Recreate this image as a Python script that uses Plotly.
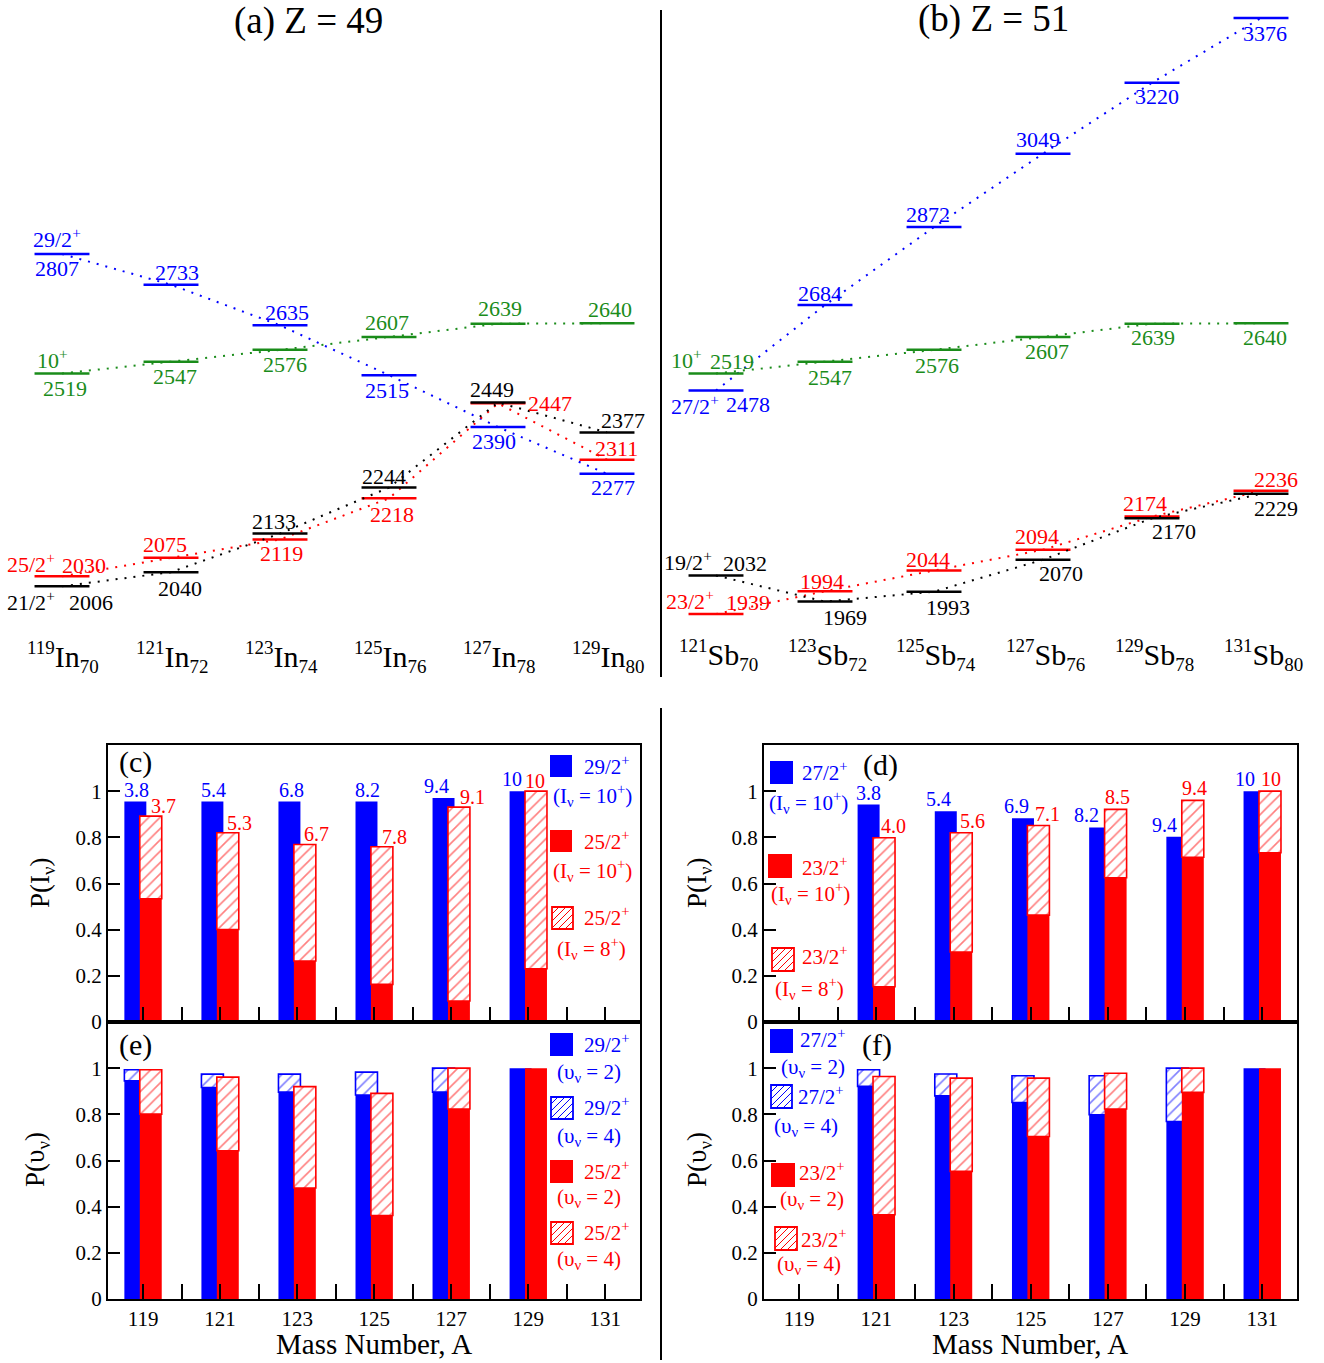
import plotly.graph_objects as go

# Reference frame (pixels of the target picture); the figure itself is drawn
# slightly taller because the page is photographed and squeezed to 1363 px.
W, H = 1324, 1363
FIG_H = 1375
FONT = "Liberation Serif"
BLUE = "#0000ff"
RED = "#ff0000"
GREEN = "#1a8c1a"
BLACK = "#000000"

# ---------------- data: level energies (keV) ----------------
in_isotopes = ["119", "121", "123", "125", "127", "129"]
in_neutrons = ["70", "72", "74", "76", "78", "80"]
sb_isotopes = ["121", "123", "125", "127", "129", "131"]
sb_neutrons = ["70", "72", "74", "76", "78", "80"]

in_blue = [2807, 2733, 2635, 2515, 2390, 2277]     # 29/2+
in_green = [2519, 2547, 2576, 2607, 2639, 2640]    # 10+
in_red = [2030, 2075, 2119, 2218, 2447, 2311]      # 25/2+
in_black = [2006, 2040, 2133, 2244, 2449, 2377]    # 21/2+

sb_blue = [2478, 2684, 2872, 3049, 3220, 3376]     # 27/2+
sb_green = [2519, 2547, 2576, 2607, 2639, 2640]    # 10+
sb_red = [1939, 1994, 2044, 2094, 2174, 2236]      # 23/2+
sb_black = [2032, 1969, 1993, 2070, 2170, 2229]    # 19/2+

# ---------------- data: probabilities ----------------
mass_in = [119, 121, 123, 125, 127, 129]
mass_sb = [121, 123, 125, 127, 129, 131]

c_blue = [0.955, 0.955, 0.955, 0.955, 0.97, 1.0]
c_red_solid = [0.534, 0.401, 0.264, 0.163, 0.091, 0.231]
c_red_total = [0.892, 0.82, 0.769, 0.759, 0.931, 1.0]
c_blue_lab = ["3.8", "5.4", "6.8", "8.2", "9.4", "10"]
c_red_lab = ["3.7", "5.3", "6.7", "7.8", "9.1", "10"]

d_blue = [0.942, 0.913, 0.883, 0.843, 0.802, 1.0]
d_red_solid = [0.153, 0.303, 0.463, 0.625, 0.714, 0.733]
d_red_total = [0.798, 0.82, 0.851, 0.921, 0.96, 1.0]
d_blue_lab = ["3.8", "5.4", "6.9", "8.2", "9.4", "10"]
d_red_lab = ["4.0", "5.6", "7.1", "8.5", "9.4", "10"]

e_blue_solid = [0.945, 0.916, 0.896, 0.884, 0.896, 1.0]
e_blue_total = [0.993, 0.974, 0.974, 0.983, 1.0, 1.0]
e_red_solid = [0.801, 0.642, 0.481, 0.362, 0.823, 1.0]
e_red_total = [0.993, 0.961, 0.92, 0.891, 1.0, 1.0]

f_blue_solid = [0.921, 0.88, 0.851, 0.798, 0.769, 1.0]
f_blue_total = [0.993, 0.975, 0.967, 0.967, 1.0, 1.0]
f_red_solid = [0.365, 0.553, 0.704, 0.823, 0.895, 1.0]
f_red_total = [0.964, 0.957, 0.957, 0.978, 1.0, 1.0]


# ---------------- layout helpers (reference pixels -> paper) ----------------
def px(x):
    return x / W


def py(y):
    return 1 - y / H


fig = go.Figure()
annotations = []
shapes = []


def ann(text, x, y, color=BLACK, size=20, xanchor="center", yanchor="middle",
        xref="paper", yref="paper", xshift=0, yshift=0, textangle=0):
    if xref == "paper":
        x = px(x)
    if yref == "paper":
        y = py(y)
    annotations.append(dict(text=text, x=x, y=y, xref=xref, yref=yref,
                            showarrow=False, xanchor=xanchor, yanchor=yanchor,
                            xshift=xshift, yshift=yshift, textangle=textangle,
                            font=dict(family=FONT, size=size, color=color)))


# ---------------- top: level schemes ----------------
HALF = 0.252
LVL_FS = 22
STEP = 109.0   # pixels between isotopes
X0 = 62.0      # pixel centre of first isotope


def level_series(energies, offset, color, offsets, extra=None):
    xs, ys = [], []
    for k, e in enumerate(energies):
        i = offset + k
        xs += [i - HALF, i + HALF, None]
        ys += [e, e, None]
    fig.add_trace(go.Scatter(x=xs, y=ys, mode="lines", line=dict(color=color, width=2.5),
                             hoverinfo="skip", showlegend=False, xaxis="x", yaxis="y"))
    fig.add_trace(go.Scatter(x=[offset + k for k in range(len(energies))], y=energies,
                             mode="lines", line=dict(color=color, width=2, dash="2px,7px"),
                             hoverinfo="skip", showlegend=False, xaxis="x", yaxis="y"))
    for k, e in enumerate(energies):
        dx, dy = offsets[k]
        ann(str(e), offset + k, e, color=color, size=LVL_FS, xref="x", yref="y",
            xshift=dx, yshift=dy)
    if extra is not None:
        txt, dx, dy = extra
        ann(txt, offset, energies[0], color=color, size=LVL_FS, xref="x", yref="y",
            xshift=dx, yshift=dy)


# panel (a)
level_series(in_blue, 0, BLUE, [(-5, -14), (6, 12), (7, 13), (-2, -15), (-4, -15), (6, -14)],
             ("29/2<sup>+</sup>", -5, 16))
level_series(in_green, 0, GREEN, [(3, -15), (4, -15), (5, -15), (-2, 14), (2, 15), (3, 14)],
             ("10<sup>+</sup>", -10, 14))
level_series(in_red, 0, RED, [(22, 11), (-6, 13), (1, -14), (3, -16), (52, 0), (9, 11)],
             ("25/2<sup>+</sup>", -31, 13))
level_series(in_black, 0, BLACK, [(29, -16), (9, -16), (-6, 12), (-5, 11), (-6, 13), (16, 12)],
             ("21/2<sup>+</sup>", -31, -15))
# panel (b)
level_series(sb_blue, 6, BLUE, [(32, -14), (-5, 12), (-6, 13), (-5, 14), (5, -14), (4, -15)],
             ("27/2<sup>+</sup>", -21, -15))
level_series(sb_green, 6, GREEN, [(16, 12), (5, -16), (3, -16), (4, -15), (1, -14), (4, -14)],
             ("10<sup>+</sup>", -30, 14))
level_series(sb_red, 6, RED, [(32, 12), (-3, 10), (-6, 11), (-6, 13), (-7, 13), (15, 11)],
             ("23/2<sup>+</sup>", -26, 14))
level_series(sb_black, 6, BLACK, [(29, 12), (20, -16), (14, -16), (18, -14), (22, -13), (15, -15)],
             ("19/2<sup>+</sup>", -28, 14))

SUPSPAN = "<span style='font-size:19px'>%s</span>"
for k in range(6):
    ann("<sup>" + SUPSPAN % in_isotopes[k] + "</sup>In<sub>" + SUPSPAN % in_neutrons[k] + "</sub>",
        k, 657, size=30, xref="x", yref="paper", xshift=1)
    ann("<sup>" + SUPSPAN % sb_isotopes[k] + "</sup>Sb<sub>" + SUPSPAN % sb_neutrons[k] + "</sub>",
        6 + k, 655, size=30, xref="x", yref="paper", xshift=2)

ann("(a) Z = 49", 308, 21, size=37)
ann("(b) Z = 51", 993, 19, size=37)

# separators
shapes.append(dict(type="line", xref="paper", yref="paper", x0=px(661), x1=px(661),
                   y0=py(10), y1=py(677), line=dict(color=BLACK, width=2)))
shapes.append(dict(type="line", xref="paper", yref="paper", x0=px(661), x1=px(661),
                   y0=py(708), y1=py(1360), line=dict(color=BLACK, width=2)))

# ---------------- bottom: bar panels ----------------
BW = 0.57
OFF = 0.2


def solid_bar(xs, ys, color, ax):
    fig.add_trace(go.Bar(x=xs, y=ys, width=BW, marker=dict(color=color, line=dict(width=0)),
                         hoverinfo="skip", showlegend=False, xaxis="x" + ax, yaxis="y" + ax))


def hatch_bar(xs, base, top, color, ax):
    hy = [t - b if t - b > 1e-6 else None for b, t in zip(base, top)]
    fig.add_trace(go.Bar(x=xs, y=hy, base=base, width=BW,
                         marker=dict(color="white", line=dict(color=color, width=1.6),
                                     pattern=dict(shape="/", fgcolor=color, bgcolor="white",
                                                  size=8, solidity=0.2)),
                         hoverinfo="skip", showlegend=False, xaxis="x" + ax, yaxis="y" + ax))


# (c)
xb = [a - OFF for a in mass_in]
xr = [a + OFF for a in mass_in]
solid_bar(xb, c_blue, BLUE, "2")
solid_bar(xr, c_red_solid, RED, "2")
hatch_bar(xr, c_red_solid, c_red_total, RED, "2")
# (e)
hatch_bar(xb, e_blue_solid, e_blue_total, BLUE, "3")
solid_bar(xb, e_blue_solid, BLUE, "3")
solid_bar(xr, e_red_solid, RED, "3")
hatch_bar(xr, e_red_solid, e_red_total, RED, "3")
# (d)
xb2 = [a - OFF for a in mass_sb]
xr2 = [a + OFF for a in mass_sb]
solid_bar(xb2, d_blue, BLUE, "4")
solid_bar(xr2, d_red_solid, RED, "4")
hatch_bar(xr2, d_red_solid, d_red_total, RED, "4")
# (f)
hatch_bar(xb2, f_blue_solid, f_blue_total, BLUE, "5")
solid_bar(xb2, f_blue_solid, BLUE, "5")
solid_bar(xr2, f_red_solid, RED, "5")
hatch_bar(xr2, f_red_solid, f_red_total, RED, "5")

# value labels
c_boff = [-0.17, -0.16, -0.15, -0.18, -0.37, -0.43]
c_roff = [0.54, 0.5, 0.5, 0.54, 0.55, 0.18]
d_boff = [-0.19, -0.38, -0.36, -0.55, -0.54, -0.46]
d_roff = [0.44, 0.49, 0.43, 0.24, 0.25, 0.22]
for k in range(6):
    ann(c_blue_lab[k], mass_in[k] + c_boff[k], c_blue[k], color=BLUE, size=20,
        xref="x2", yref="y2", yshift=12)
    ann(c_red_lab[k], mass_in[k] + c_roff[k], c_red_total[k], color=RED, size=20,
        xref="x2", yref="y2", yshift=10)
    ann(d_blue_lab[k], mass_sb[k] + d_boff[k], d_blue[k], color=BLUE, size=20,
        xref="x4", yref="y4", yshift=12)
    ann(d_red_lab[k], mass_sb[k] + d_roff[k], d_red_total[k], color=RED, size=20,
        xref="x4", yref="y4", yshift=12)


# legends (swatches as shapes, text as annotations)
def swatch_solid(x0, y0, x1, y1, color):
    shapes.append(dict(type="rect", xref="paper", yref="paper", x0=px(x0), x1=px(x1),
                       y0=py(y1), y1=py(y0), fillcolor=color, line=dict(width=0)))


def swatch_hatch(x0, y0, x1, y1, color, step=7):
    shapes.append(dict(type="rect", xref="paper", yref="paper", x0=px(x0), x1=px(x1),
                       y0=py(y1), y1=py(y0), fillcolor="white", line=dict(color=color, width=1.8)))
    path = ""
    c = x0 + y0 + step
    while c < x1 + y1:
        xa = max(x0, c - y1)
        xb_ = min(x1, c - y0)
        path += "M%.5f,%.5f L%.5f,%.5f " % (px(xa), py(c - xa), px(xb_), py(c - xb_))
        c += step
    shapes.append(dict(type="path", xref="paper", yref="paper", path=path,
                       line=dict(color=color, width=1)))


LG = 21
IV10 = "(I<sub>ν</sub> = 10<sup>+</sup>)"
IV8 = "(I<sub>ν</sub> = 8<sup>+</sup>)"
UV2 = "(υ<sub>ν</sub> = 2)"
UV4 = "(υ<sub>ν</sub> = 4)"

# (c) legend
swatch_solid(550, 755, 572, 777, BLUE)
ann("29/2<sup>+</sup>", 582, 765, BLUE, LG, xanchor="left")
ann(IV10, 592, 795, BLUE, LG)
swatch_solid(550, 830, 572, 852, RED)
ann("25/2<sup>+</sup>", 582, 840, RED, LG, xanchor="left")
ann(IV10, 592, 870, RED, LG)
swatch_hatch(552, 907, 573, 929, RED)
ann("25/2<sup>+</sup>", 582, 916, RED, LG, xanchor="left")
ann(IV8, 591, 948, RED, LG)

# (e) legend
swatch_solid(550, 1033, 573, 1056, BLUE)
ann("29/2<sup>+</sup>", 582, 1043, BLUE, LG, xanchor="left")
ann(UV2, 589, 1073, BLUE, LG)
swatch_hatch(551, 1097, 573, 1119, BLUE)
ann("29/2<sup>+</sup>", 582, 1106, BLUE, LG, xanchor="left")
ann(UV4, 589, 1137, BLUE, LG)
swatch_solid(550, 1160, 573, 1183, RED)
ann("25/2<sup>+</sup>", 582, 1170, RED, LG, xanchor="left")
ann(UV2, 589, 1198, RED, LG)
swatch_hatch(551, 1222, 573, 1244, RED)
ann("25/2<sup>+</sup>", 582, 1231, RED, LG, xanchor="left")
ann(UV4, 589, 1260, RED, LG)

# (d) legend
swatch_solid(770, 761, 793, 784, BLUE)
ann("27/2<sup>+</sup>", 800, 771, BLUE, LG, xanchor="left")
ann(IV10, 808, 802, BLUE, LG)
swatch_solid(768, 854, 792, 878, RED)
ann("23/2<sup>+</sup>", 800, 866, RED, LG, xanchor="left")
ann(IV10, 810, 893, RED, LG)
swatch_hatch(772, 948, 794, 971, RED)
ann("23/2<sup>+</sup>", 800, 955, RED, LG, xanchor="left")
ann(IV8, 809, 988, RED, LG)

# (f) legend
swatch_solid(770, 1029, 793, 1053, BLUE)
ann("27/2<sup>+</sup>", 798, 1038, BLUE, LG, xanchor="left")
ann(UV2, 813, 1068, BLUE, LG)
swatch_hatch(771, 1085, 792, 1108, BLUE)
ann("27/2<sup>+</sup>", 796, 1095, BLUE, LG, xanchor="left")
ann(UV4, 806, 1127, BLUE, LG)
swatch_solid(771, 1163, 795, 1187, RED)
ann("23/2<sup>+</sup>", 797, 1171, RED, LG, xanchor="left")
ann(UV2, 812, 1200, RED, LG)
swatch_hatch(775, 1227, 797, 1250, RED)
ann("23/2<sup>+</sup>", 799, 1238, RED, LG, xanchor="left")
ann(UV4, 809, 1265, RED, LG)

# panel letters
ann("(c)", 135, 762, size=30)
ann("(e)", 135, 1045, size=30)
ann("(d)", 880, 765, size=30)
ann("(f)", 877, 1045, size=30)

# axis titles
ann("P(I<sub>ν</sub>)", 42, 883, size=27, textangle=-90)
ann("P(υ<sub>ν</sub>)", 37, 1160, size=27, textangle=-90)
ann("P(I<sub>ν</sub>)", 699, 883, size=27, textangle=-90)
ann("P(υ<sub>ν</sub>)", 699, 1160, size=27, textangle=-90)
ann("Mass Number, A", 374, 1344, size=29)
ann("Mass Number, A", 1030, 1344, size=29)

# ---------------- axes ----------------
xt_vals = list(range(119, 132))
xt_text = [str(v) if v % 2 == 1 else "" for v in xt_vals]
yt_vals = [0, 0.2, 0.4, 0.6, 0.8, 1.0]
yt_text = ["0", "0.2", "0.4", "0.6", "0.8", "1"]


def xax(domain, labels, anchor):
    return dict(domain=domain, range=[118.09, 131.9], anchor=anchor, showline=True, mirror=True,
                linecolor=BLACK, linewidth=2, ticks="inside", ticklen=15, tickwidth=2,
                tickcolor=BLACK, tickvals=xt_vals, ticktext=xt_text, showticklabels=labels,
                tickfont=dict(family=FONT, size=21, color=BLACK), showgrid=False, zeroline=False)


def yax(domain, anchor):
    return dict(domain=domain, range=[0, 1.2], anchor=anchor, showline=True, mirror=True,
                linecolor=BLACK, linewidth=2, ticks="inside", ticklen=12, tickwidth=2,
                tickcolor=BLACK, tickvals=yt_vals, ticktext=yt_text,
                tickfont=dict(family=FONT, size=21, color=BLACK), showgrid=False, zeroline=False)


XL = [px(108), px(640)]
XR = [px(764), px(1297)]
YT = [py(1022), py(745)]
YB = [py(1299), py(1022)]

# top level-scheme axis: reference pixel -> isotope index / energy
E_REF, Y_REF, KEV_PX = 3376.0, 18.0, 0.4148
x_lo = (0 - X0) / STEP
x_hi = (W - X0) / STEP
e_top = E_REF + Y_REF / KEV_PX
e_bot = E_REF - (680 - Y_REF) / KEV_PX

fig.update_layout(
    width=W, height=FIG_H,
    margin=dict(l=0, r=0, t=0, b=0),
    paper_bgcolor="white", plot_bgcolor="rgba(0,0,0,0)",
    barmode="overlay",
    showlegend=False,
    xaxis=dict(domain=[0, 1], range=[x_lo, x_hi], visible=False, anchor="y"),
    yaxis=dict(domain=[py(680), 1], range=[e_bot, e_top], visible=False, anchor="x"),
    xaxis2=xax(XL, False, "y2"), yaxis2=yax(YT, "x2"),
    xaxis3=xax(XL, True, "y3"), yaxis3=yax(YB, "x3"),
    xaxis4=xax(XR, False, "y4"), yaxis4=yax(YT, "x4"),
    xaxis5=xax(XR, True, "y5"), yaxis5=yax(YB, "x5"),
    annotations=annotations,
    shapes=shapes,
    font=dict(family=FONT),
)

fig.write_html("out.html", config={"displayModeBar": False},
               post_script="document.body.style.margin='0';document.body.style.overflow='hidden';")
